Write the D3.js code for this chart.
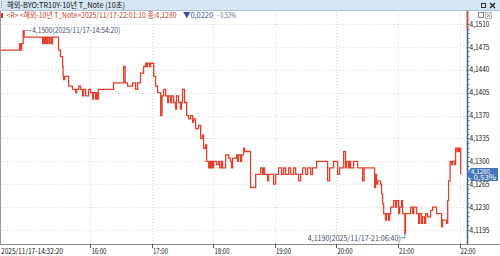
<!DOCTYPE html>
<html>
<head>
<meta charset="utf-8">
<script src="https://cdn.jsdelivr.net/npm/d3@7"></script>
<style>
  html, body { margin: 0; padding: 0; background: #fff; }
  svg { display: block; font-family: "Noto Sans CJK KR", "DejaVu Sans", sans-serif; }
</style>
</head>
<body>
<svg id="chart" width="500" height="256"></svg>
<script>
// 10-second T-Note yield, 2025/11/17
const times = [
  "14:32:20","14:50:50","14:51:50","14:52:50","14:54:20","14:55:20","15:13:20","15:14:20","15:15:20","15:16:10",
  "15:17:10","15:18:10","15:19:40","15:20:40","15:22:10","15:23:00","15:28:50","15:30:50","15:32:50","15:33:20",
  "15:33:50","15:34:50","15:38:40","15:42:30","15:45:30","15:46:30","15:48:30","15:50:20","15:52:20","15:53:20",
  "15:55:20","15:58:10","16:00:10","16:02:10","16:03:00","16:05:00","16:06:00","16:07:00","16:07:50","16:22:30",
  "16:32:20","16:33:50","16:36:10","16:41:10","16:44:00","16:46:00","16:48:50","16:51:50","16:53:50","16:54:50",
  "16:55:40","16:57:40","16:58:40","17:01:40","17:03:30","17:05:30","17:08:30","17:09:50","17:11:20","17:13:20",
  "17:15:20","17:16:10","17:18:10","17:19:10","17:21:10","17:23:00","17:24:00","17:26:00","17:27:50","17:28:50",
  "17:29:50","17:31:50","17:33:50","17:35:40","17:37:40","17:39:40","17:40:40","17:42:30","17:45:30","17:47:30",
  "17:49:20","17:50:20","17:52:20","17:53:20","17:55:20","17:56:10","17:57:10","17:58:10","17:59:10","18:00:10",
  "18:03:00","18:05:00","18:06:00","18:07:50","18:08:50","18:11:50","18:14:50","18:16:40","18:17:40","18:18:40",
  "18:22:30","18:23:30","18:24:30","18:26:30","18:27:30","18:29:20","18:30:20","18:36:10","18:41:10","18:46:00",
  "18:47:50","18:48:50","18:49:50","18:52:50","18:53:50","18:58:40","19:00:40","19:03:30","19:06:30","19:08:30",
  "19:10:20","19:13:20","19:15:20","19:18:10","19:20:10","19:23:00","19:25:00","19:27:00","19:29:50","19:31:50",
  "19:34:50","19:36:40","19:40:40","19:51:20","19:53:20","19:57:10","20:01:10","20:03:00","20:07:00","20:08:50",
  "20:09:50","20:11:50","20:12:50","20:13:50","20:16:40","20:20:40","20:25:30","20:27:00","20:37:10","20:38:10",
  "20:39:10","20:40:10","20:43:00","20:44:00","20:45:00","20:46:00","20:47:50","20:48:50","20:50:50","20:51:50",
  "20:52:50","20:55:40","20:57:40","20:58:40","21:00:40","21:01:40","21:03:30","21:04:30","21:06:40","21:07:20",
  "21:12:20","21:14:20","21:15:20","21:18:10","21:20:10","21:21:10","21:23:00","21:24:00","21:26:00","21:27:00",
  "21:28:50","21:31:50","21:33:50","21:37:40","21:42:30","21:43:30","21:47:30","21:48:30","21:49:20","21:50:50",
  "21:52:20","21:53:20","21:55:20","21:56:10","21:57:40","21:58:10","21:59:10","22:00:10","22:01:10"
];
const values = [
  4.1470,4.1480,4.1470,4.1480,4.1500,4.1490,4.1480,4.1490,4.1480,4.1490,
  4.1480,4.1490,4.1480,4.1490,4.1480,4.1490,4.1470,4.1460,4.1445,4.1430,
  4.1425,4.1430,4.1415,4.1410,4.1405,4.1410,4.1415,4.1410,4.1400,4.1410,
  4.1400,4.1410,4.1405,4.1395,4.1405,4.1395,4.1405,4.1395,4.1410,4.1420,
  4.1445,4.1420,4.1415,4.1420,4.1410,4.1420,4.1435,4.1445,4.1450,4.1445,
  4.1450,4.1445,4.1450,4.1430,4.1415,4.1405,4.1370,4.1400,4.1410,4.1400,
  4.1390,4.1400,4.1390,4.1400,4.1390,4.1380,4.1400,4.1390,4.1380,4.1390,
  4.1410,4.1390,4.1370,4.1365,4.1370,4.1360,4.1365,4.1350,4.1355,4.1335,
  4.1340,4.1320,4.1325,4.1300,4.1290,4.1300,4.1290,4.1300,4.1290,4.1300,
  4.1295,4.1300,4.1290,4.1300,4.1290,4.1310,4.1305,4.1300,4.1290,4.1305,
  4.1310,4.1300,4.1310,4.1300,4.1310,4.1320,4.1315,4.1260,4.1280,4.1290,
  4.1280,4.1290,4.1280,4.1270,4.1280,4.1265,4.1280,4.1290,4.1280,4.1290,
  4.1280,4.1290,4.1280,4.1290,4.1280,4.1270,4.1280,4.1290,4.1280,4.1290,
  4.1280,4.1290,4.1300,4.1270,4.1290,4.1300,4.1280,4.1290,4.1315,4.1290,
  4.1300,4.1290,4.1300,4.1290,4.1300,4.1290,4.1270,4.1290,4.1260,4.1280,
  4.1265,4.1270,4.1265,4.1250,4.1235,4.1220,4.1210,4.1220,4.1210,4.1220,
  4.1230,4.1240,4.1230,4.1240,4.1220,4.1230,4.1240,4.1220,4.1190,4.1220,
  4.1230,4.1220,4.1230,4.1220,4.1205,4.1220,4.1205,4.1215,4.1205,4.1220,
  4.1215,4.1225,4.1230,4.1220,4.1200,4.1210,4.1205,4.1240,4.1270,4.1300,
  4.1295,4.1300,4.1295,4.1320,4.1315,4.1320,4.1315,4.1320,4.1280
];
const yTicks = [4.1510, 4.1475, 4.1440, 4.1405, 4.1370, 4.1335, 4.1300, 4.1265, 4.1230, 4.1195];
const hourTicks = ["16:00:00", "17:00:00", "18:00:00", "19:00:00", "20:00:00", "21:00:00", "22:00:00"];
const startLabel = "2025/11/17-14:32:20";
const titleText = "해외-BYO:TR10Y-10년 T_Note (10초)";
const infoMain = "<R> <해외-10년 T_Note>2025/11/17-22:01:10 종:4,1280";
const infoChange = "▼0,0220";
const infoPct = "- 0,53%";
const lastValue = 4.1280;
const lastPct = "- 0,53%";
const maxPoint = { time: "14:54:20", value: 4.1500, label: "4,1500(2025/11/17-14:54:20)" };
const minPoint = { time: "21:06:40", value: 4.1190, label: "4,1190(2025/11/17-21:06:40)" };

const parse = d3.timeParse("%Y-%m-%d %H:%M:%S");
const toDate = t => parse("2025-11-17 " + t);
const fmt = v => d3.format(".4f")(v).replace(".", ",");

const data = times.map((t, i) => ({ date: toDate(t), value: values[i] }));

// squeeze text to the narrow width the terminal font uses
function fit(sel, w) {
  return sel.attr("textLength", w).attr("lengthAdjust", "spacingAndGlyphs");
}

const svg = d3.select("#chart");
const plotTop = 11, plotBottom = 244, axisX = 467;

const x = d3.scaleTime()
  .domain([toDate("14:32:20"), toDate("22:00:00")])
  .range([0.6, 459.5]);
const y = d3.scaleLinear()
  .domain([4.1195, 4.1510])
  .range([230, 24]);

// title bar
svg.append("rect").attr("x", 0).attr("y", 0).attr("width", 500).attr("height", 10)
  .attr("fill", "#d7e6f3");
svg.append("line").attr("x1", 0).attr("x2", 500).attr("y1", 10.5).attr("y2", 10.5)
  .attr("stroke", "#a8bfd6");
svg.append("line").attr("x1", 1.5).attr("x2", 1.5).attr("y1", 1).attr("y2", 9)
  .attr("stroke", "#7c93ad").attr("stroke-dasharray", "1,1");
fit(svg.append("text").attr("x", 7).attr("y", 8.2).attr("font-size", 8).attr("fill", "#111")
  .text(titleText), 118);
svg.append("rect").attr("x", 481.5).attr("y", 3.5).attr("width", 4).attr("height", 4)
  .attr("fill", "none").attr("stroke", "#333").attr("stroke-width", 1);
svg.append("path").attr("d", "M490,3 L495,8 M495,3 L490,8")
  .attr("stroke", "#222").attr("stroke-width", 1.3);

// grid
const grid = svg.append("g").attr("stroke", "#d9d9d9").attr("stroke-dasharray", "1,2");
grid.selectAll("line.h").data(yTicks).join("line")
  .attr("x1", 1).attr("x2", axisX)
  .attr("y1", d => Math.round(y(d)) + 0.5).attr("y2", d => Math.round(y(d)) + 0.5);
grid.selectAll("line.v").data(hourTicks).join("line")
  .attr("x1", d => Math.round(x(toDate(d))) + 0.5).attr("x2", d => Math.round(x(toDate(d))) + 0.5)
  .attr("y1", plotTop + 1).attr("y2", plotBottom);

// left frame and bottom axis
svg.append("line").attr("x1", 0.5).attr("x2", 0.5).attr("y1", plotTop).attr("y2", plotBottom)
  .attr("stroke", "#9a9a9a");
svg.append("line").attr("x1", 0).attr("x2", 500).attr("y1", plotBottom + 0.5).attr("y2", plotBottom + 0.5)
  .attr("stroke", "#8a8a8a");

const xAxis = svg.append("g").attr("font-size", 7.5).attr("fill", "#111");
xAxis.selectAll("line").data(hourTicks).join("line")
  .attr("x1", d => Math.round(x(toDate(d))) + 0.5).attr("x2", d => Math.round(x(toDate(d))) + 0.5)
  .attr("y1", plotBottom).attr("y2", plotBottom + 4).attr("stroke", "#555");
xAxis.selectAll("text").data(hourTicks).join("text")
  .attr("x", d => x(toDate(d)) + 1).attr("y", 253.5)
  .text(d => d.slice(0, 5))
  .call(fit, 15);
fit(xAxis.append("text").attr("x", 1).attr("y", 253.5).text(startLabel), 62);

// right axis
svg.append("line").attr("x1", axisX + 0.5).attr("x2", axisX + 0.5).attr("y1", plotTop).attr("y2", plotBottom)
  .attr("stroke", "#3f5f9c").attr("stroke-width", 1.5);
svg.append("line").attr("x1", axisX + 0.5).attr("x2", axisX + 0.5).attr("y1", plotTop).attr("y2", y(maxPoint.value))
  .attr("stroke", "#d9442f").attr("stroke-width", 1.5);
const minorTicks = d3.range(0, 46).map(i => 4.1195 + i * 0.0007);
svg.append("g").selectAll("line").data(minorTicks).join("line")
  .attr("x1", axisX + 1).attr("x2", axisX + 2.5)
  .attr("y1", d => Math.round(y(d)) + 0.5).attr("y2", d => Math.round(y(d)) + 0.5)
  .attr("stroke", "#6a7fa8");
const yAxis = svg.append("g").attr("font-size", 7.5).attr("fill", "#111");
yAxis.selectAll("text").data(yTicks).join("text")
  .attr("x", axisX + 2.5).attr("y", d => y(d) + 2.7)
  .text(d => fmt(d))
  .call(fit, 20);
svg.append("rect").attr("x", 478.5).attr("y", 12.5).attr("width", 5).attr("height", 5)
  .attr("fill", "#f4f4f4").attr("stroke", "#888");
svg.append("rect").attr("x", 485.5).attr("y", 12.5).attr("width", 6).attr("height", 6)
  .attr("fill", "#f4f4f4").attr("stroke", "#bbb");
svg.append("path").attr("d", "M487,14 L490,17 M490,14 L487,17").attr("stroke", "#888");

// info line
const info = svg.append("g").attr("font-size", 7.5);
fit(info.append("text").attr("x", 6.5).attr("y", 17.5).attr("fill", "#c8372a").text(infoMain), 170);
fit(info.append("text").attr("x", 183).attr("y", 17.5).attr("fill", "#2f4f9f").text(infoChange), 30);
fit(info.append("text").attr("x", 217).attr("y", 17.5).attr("fill", "#5a6a8a").text(infoPct), 19);
svg.append("rect").attr("x", 1).attr("y", 13).attr("width", 2).attr("height", 5).attr("fill", "#c8372a");

// price line
const line = d3.line()
  .curve(d3.curveStepAfter)
  .x(d => x(d.date))
  .y(d => y(d.value));
svg.append("path").datum(data)
  .attr("fill", "none")
  .attr("stroke", "#e2402c")
  .attr("stroke-width", 1.3)
  .attr("d", line);

// max / min annotations
const mx = x(toDate(maxPoint.time)), my = y(maxPoint.value);
svg.append("line").attr("x1", mx).attr("x2", mx + 9).attr("y1", my).attr("y2", my)
  .attr("stroke", "#7083a8").attr("stroke-dasharray", "2,1");
fit(svg.append("text").attr("x", mx + 9).attr("y", my + 2.7).attr("font-size", 7.5).attr("fill", "#3e4c6c")
  .text(maxPoint.label), 88);

const nx = x(toDate(minPoint.time)), ny = y(minPoint.value);
svg.append("path")
  .attr("d", `M${nx},${ny} V${ny + 4.5} H${nx - 4}`)
  .attr("fill", "none").attr("stroke", "#7083a8");
fit(svg.append("text").attr("x", nx - 97).attr("y", ny + 7.5).attr("font-size", 7.5).attr("fill", "#3e4c6c")
  .text(minPoint.label), 93);

// last price tag
const ly = y(lastValue);
svg.append("path")
  .attr("d", `M${axisX},${ly} L${axisX + 4},${ly - 6.5} H498 V${ly + 6.5} H${axisX + 4} Z`)
  .attr("fill", "#4475b8");
fit(svg.append("text").attr("x", 471).attr("y", ly - 0.5).attr("font-size", 7).attr("fill", "#fff")
  .text(fmt(lastValue)), 19);
fit(svg.append("text").attr("x", 469).attr("y", ly + 6).attr("font-size", 7).attr("fill", "#fff")
  .text(lastPct), 27);
</script>
</body>
</html>
